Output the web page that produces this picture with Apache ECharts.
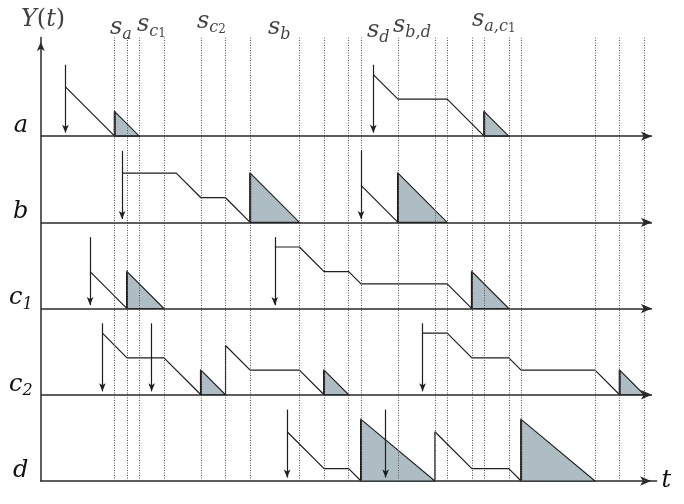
<!DOCTYPE html>
<html><head><meta charset="utf-8">
<script src="https://cdn.jsdelivr.net/npm/echarts@6/dist/echarts.min.js"></script>
<style>html,body{margin:0;padding:0;background:#fff}#c{width:684px;height:504px}</style>
</head><body><div id="c"></div>
<script>
// ---- data (time units, work units) ----
const rowKeys = ['a', 'b', 'c1', 'c2', 'd'];
const rowBase = [28, 21, 14, 7, 0];          // baseline of each row on the shared y scale
const rowLabelText = ['{m|a}', '{m|b}', '{m|c}{s|1}', '{m|c}{s|2}', '{m|d}'];
const dottedTimes = [6, 7, 8, 10, 13, 15, 17, 21, 23, 25, 26, 29, 32, 33, 35, 36, 38, 39, 45, 47, 49];
const arrowLen = 5.8;

const arrivalsA = [2, 27];
const curvesA = [[[2, 4], [6, 0]], [[27, 5], [29, 3], [33, 3], [36, 0]]];
const shadedA = [[6, 2, 8], [36, 2, 38]];

const arrivalsB = [6.6, 26];
const curvesB = [[[6.6, 4], [11, 4], [13, 2], [15, 2], [17, 0]], [[26, 3], [29, 0]]];
const shadedB = [[17, 4, 21], [29, 4, 33]];

const arrivalsC1 = [4, 19];
const curvesC1 = [[[4, 3], [7, 0]], [[19, 5], [21, 5], [23, 3], [25, 3], [26, 2], [33, 2], [35, 0]]];
const shadedC1 = [[7, 3, 10], [35, 3, 38]];

const arrivalsC2 = [5, 9, 31];
const curvesC2 = [[[5, 5], [7, 3], [10, 3], [13, 0]], [[15, 0], [15, 4], [17, 2], [21, 2], [23, 0]], [[31, 5], [33, 5], [35, 3], [38, 3], [39, 2], [45, 2], [47, 0]]];
const shadedC2 = [[13, 2, 15], [23, 2, 25], [47, 2, 49]];

const arrivalsD = [20, 28];
const curvesD = [[[20, 4], [23, 1], [25, 1], [26, 0]], [[32, 0], [32, 4], [35, 1], [38, 1], [39, 0]]];
const shadedD = [[26, 5, 32], [39, 5, 45]];

const topLabels = [
  { t: -1.61, y: 37.3, text: '{m|Y}{p|(}{m|t}{p|)}' },
  { t: 5.62, y: 36.65, text: '{m|s}{s|a}' },
  { t: 7.81, y: 36.9, text: '{m|s}{s|c}{ss|1}' },
  { t: 12.68, y: 37.2, text: '{m|s}{s|c}{ss|2}' },
  { t: 18.45, y: 36.7, text: '{m|s}{s|b}' },
  { t: 26.49, y: 36.45, text: '{m|s}{s|d}' },
  { t: 28.6, y: 36.8, text: '{m|s}{s|b,d}' },
  { t: 35.01, y: 37.35, text: '{m|s}{s|a,c}{ss|1}' }
];

const rows = [
  { arr: arrivalsA, cur: curvesA, sh: shadedA },
  { arr: arrivalsB, cur: curvesB, sh: shadedB },
  { arr: arrivalsC1, cur: curvesC1, sh: shadedC1 },
  { arr: arrivalsC2, cur: curvesC2, sh: shadedC2 },
  { arr: arrivalsD, cur: curvesD, sh: shadedD }
];

// ---- styles ----
const SERIF = 'DejaVu Serif';
const ink = '#1e1e1e';
const fillCol = '#aebdc3';
const rich = {
  m: { fontFamily: SERIF, fontStyle: 'italic', fontSize: 24, color: '#111', padding: [0, 0, 3, 0], verticalAlign: 'bottom' },
  p: { fontFamily: SERIF, fontSize: 24, color: '#111', padding: [0, 0, 3, 0], verticalAlign: 'bottom' },
  s: { fontFamily: SERIF, fontStyle: 'italic', fontSize: 16, color: '#111', padding: [0, 0, 0, 0], verticalAlign: 'bottom' },
  ss: { fontFamily: SERIF, fontSize: 12, color: '#111', padding: [0, 0, 0, 0], verticalAlign: 'bottom' }
};

const series = [];

// dotted guide lines
series.push({
  type: 'line', data: [], silent: true,
  markLine: {
    silent: true, symbol: ['none', 'none'], animation: false,
    label: { show: false },
    lineStyle: { type: [1, 1.5], color: '#555', width: 1 },
    data: dottedTimes.map(t => ({ xAxis: t }))
  }
});

// row baselines (a..c2) with arrowheads; d uses x axis line
const baseLines = [];
rowBase.forEach((b, i) => {
  if (i < rowBase.length - 1) baseLines.push([{ coord: [0, b] }, { coord: [49.62, b] }]);
});
series.push({
  type: 'line', data: [], silent: true, z: 4,
  markLine: {
    silent: true, animation: false, symbol: ['none', 'arrow'], symbolSize: [7, 11],
    label: { show: false },
    lineStyle: { type: 'solid', color: '#2a2a2a', width: 1.5 },
    data: baseLines
  }
});

// arrival arrows
const arrivalLines = [];
rows.forEach((r, i) => {
  r.arr.forEach(t => arrivalLines.push([{ coord: [t, rowBase[i] + arrowLen] }, { coord: [t, rowBase[i] + 0.28] }]));
});
series.push({
  type: 'line', data: [], silent: true, z: 5,
  markLine: {
    silent: true, animation: false, symbol: ['none', 'arrow'], symbolSize: [5, 8],
    label: { show: false },
    lineStyle: { type: 'solid', color: ink, width: 1.2 },
    data: arrivalLines
  }
});

// work curves
rows.forEach((r, i) => {
  r.cur.forEach(seg => {
    series.push({
      type: 'line', silent: true, symbol: 'none', animation: false, z: 3,
      lineStyle: { color: ink, width: 1.2 },
      data: seg.map(p => [p[0], p[1] + rowBase[i]])
    });
  });
});

// shaded triangles
const triData = [];
rows.forEach((r, i) => r.sh.forEach(s => triData.push([s[0], s[1], s[2], rowBase[i]])));
series.push({
  type: 'custom', silent: true, animation: false, z: 2,
  data: triData,
  renderItem: function (params, api) {
    const t0 = api.value(0), h = api.value(1), t1 = api.value(2), b = api.value(3);
    const p0 = api.coord([t0, b]), p1 = api.coord([t0, b + h]), p2 = api.coord([t1, b]);
    return {
      type: 'group',
      children: [
        { type: 'polygon', shape: { points: [p0, p1, p2] }, style: { fill: fillCol, stroke: ink, lineWidth: 1.1 } },
        { type: 'line', shape: { x1: p0[0], y1: p0[1], x2: p1[0], y2: p1[1] }, style: { stroke: ink, lineWidth: 2 } }
      ]
    };
  }
});

// top labels
series.push({
  type: 'scatter', silent: true, animation: false, clip: false, symbolSize: 0, z: 10,
  data: topLabels.map(l => ({
    value: [l.t, l.y],
    label: { show: true, position: [0, 0], align: 'left', verticalAlign: 'middle', formatter: l.text, rich: rich }
  }))
});

const chart = echarts.init(document.getElementById('c'), null, { renderer: 'canvas' });
chart.setOption({
  animation: false,
  backgroundColor: '#fff',
  grid: { left: 40.8, right: 27.4, top: 37.6, bottom: 23, containLabel: false },
  xAxis: {
    type: 'value', min: 0, max: 50,
    axisLine: { show: true, onZero: false, symbol: ['none', 'arrow'], symbolSize: [7, 11], symbolOffset: [0, -5.5], lineStyle: { color: '#2a2a2a', width: 1.5 } },
    axisTick: { show: false }, axisLabel: { show: false }, splitLine: { show: false },
    name: 't', nameLocation: 'end', nameGap: 5,
    nameTextStyle: { fontFamily: SERIF, fontStyle: 'italic', fontSize: 24, color: '#111', verticalAlign: 'middle' }
  },
  yAxis: {
    type: 'value', min: 0, max: 36, interval: 7,
    axisLine: { show: true, onZero: false, symbol: ['none', 'arrow'], symbolSize: [6, 9], symbolOffset: [0, -4.5], lineStyle: { color: '#2a2a2a', width: 1.5 } },
    axisTick: { show: false }, splitLine: { show: false },
    axisLabel: {
      show: true, align: 'center', margin: 20, verticalAlign: 'middle', padding: [0, 0, 18, 0],
      formatter: function (v) {
        const i = rowBase.indexOf(v);
        return i >= 0 ? rowLabelText[i] : '';
      },
      rich: rich
    }
  },
  series: series
});
</script>
</body></html>
